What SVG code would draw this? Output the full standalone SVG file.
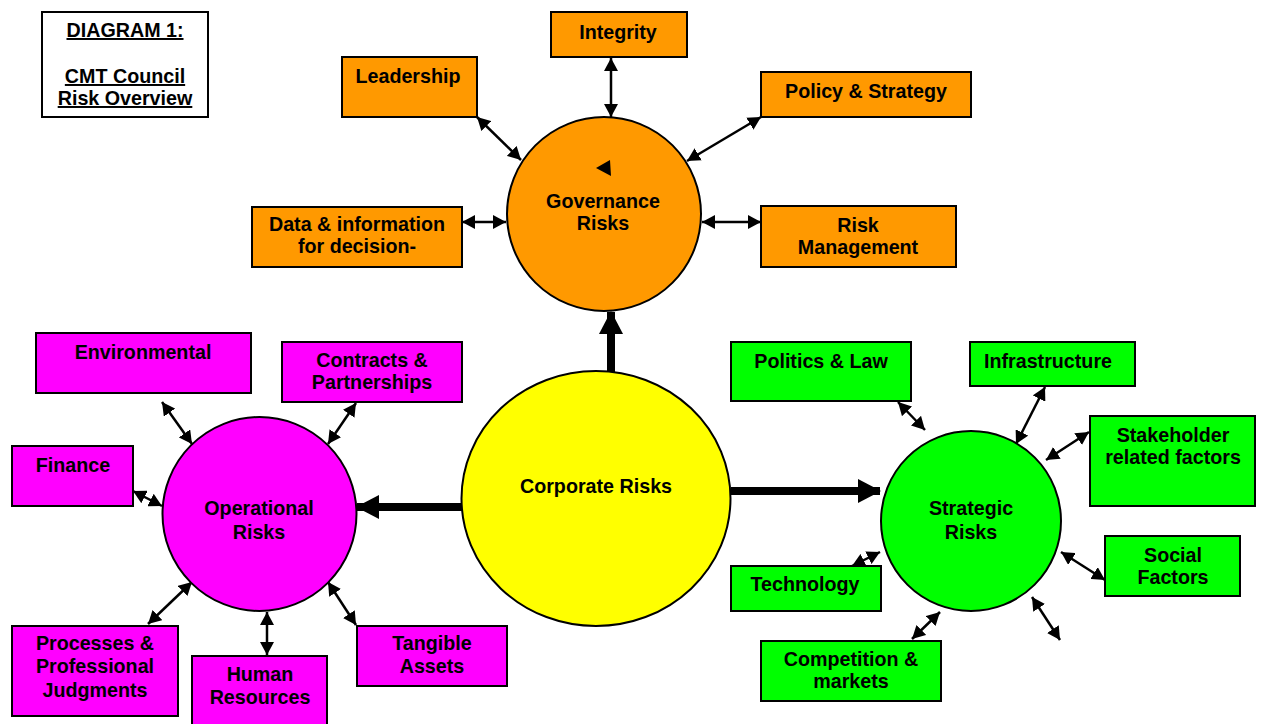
<svg xmlns="http://www.w3.org/2000/svg" width="1262" height="724" viewBox="0 0 1262 724">
<style>
text{font-family:"Liberation Sans",Arial,sans-serif;font-weight:bold;font-size:19.7px;fill:#000;text-anchor:middle}
.box{stroke:#000;stroke-width:2}
.or{fill:#FF9900}.mg{fill:#FF00FF}.gr{fill:#00FF00}.ye{fill:#FFFF00}
.c{stroke:#000;stroke-width:2.5;fill:none;marker-start:url(#h);marker-end:url(#h)}
.thick{stroke:#000;stroke-width:8;fill:none;marker-end:url(#H)}
</style>
<defs>
<marker id="h" viewBox="0 0 13 14" refX="13" refY="7" markerWidth="13" markerHeight="14" markerUnits="userSpaceOnUse" orient="auto-start-reverse"><path d="M0,0 L13,7 L0,14 z" fill="#000"/></marker>
<marker id="H" viewBox="0 0 23 24" refX="22" refY="12" markerWidth="23" markerHeight="24" markerUnits="userSpaceOnUse" orient="auto"><path d="M0,0 L23,12 L0,24 z" fill="#000"/></marker>
</defs>
<rect width="1262" height="724" fill="#fff"/>

<g id="title">
<rect x="42" y="12" width="166" height="105" fill="#fff" class="box"/>
<text x="125" y="37" text-decoration="underline">DIAGRAM 1:</text>
<text x="125" y="83" text-decoration="underline">CMT Council</text>
<text x="125" y="105" text-decoration="underline">Risk Overview</text>
</g>

<g id="connectors">
<line class="thick" x1="611" y1="372" x2="611" y2="312"/>
<line class="thick" x1="731" y1="491" x2="880" y2="491"/>
<line class="thick" x1="462" y1="507" x2="357" y2="507"/>
<line class="c" x1="477" y1="117" x2="521" y2="160"/>
<line class="c" x1="611" y1="58" x2="611" y2="117"/>
<line class="c" x1="761" y1="117" x2="687" y2="161"/>
<line class="c" x1="462" y1="222" x2="506" y2="222"/>
<line class="c" x1="702" y1="222" x2="761" y2="222"/>
<line class="c" x1="162" y1="402" x2="192" y2="444"/>
<line class="c" x1="356" y1="403" x2="328" y2="444"/>
<line class="c" x1="133" y1="491" x2="162" y2="506"/>
<line class="c" x1="148" y1="624" x2="192" y2="582"/>
<line class="c" x1="267" y1="612" x2="267" y2="655"/>
<line class="c" x1="328" y1="582" x2="356" y2="625"/>
<line class="c" x1="898" y1="402" x2="925" y2="430"/>
<line class="c" x1="1045" y1="387" x2="1016" y2="444"/>
<line class="c" x1="1089" y1="432" x2="1046" y2="460"/>
<line class="c" x1="1061" y1="552" x2="1105" y2="580"/>
<line class="c" x1="852" y1="566" x2="880" y2="552"/>
<line class="c" x1="912" y1="639" x2="940" y2="612"/>
<line class="c" x1="1032" y1="597" x2="1060" y2="640"/>
</g>

<g id="governance">
<circle cx="604" cy="214" r="97" class="box or"/>
<polygon points="596,168 610,160 611,176" fill="#000"/>
<text x="603" y="208">Governance</text>
<text x="603" y="230">Risks</text>
</g>
<g id="corporate">
<ellipse cx="596" cy="498.5" rx="134.5" ry="127.5" class="box ye"/>
<text x="596" y="493">Corporate Risks</text>
</g>
<g id="operational">
<circle cx="259.5" cy="514" r="97" class="box mg"/>
<text x="259" y="515">Operational</text>
<text x="259" y="539">Risks</text>
</g>
<g id="strategic">
<circle cx="971" cy="521" r="90" class="box gr"/>
<text x="971" y="515">Strategic</text>
<text x="971" y="539">Risks</text>
</g>

<g id="leadership"><rect x="342" y="57" width="135" height="60" class="box or"/><text x="408" y="83">Leadership</text></g>
<g id="integrity"><rect x="551" y="12" width="136" height="45" class="box or"/><text x="618" y="39">Integrity</text></g>
<g id="policy"><rect x="761" y="72" width="210" height="45" class="box or"/><text x="866" y="98">Policy &amp; Strategy</text></g>
<g id="data"><rect x="252" y="207" width="210" height="60" class="box or"/><text x="357" y="231">Data &amp; information</text><text x="357" y="253">for decision-</text></g>
<g id="riskmgmt"><rect x="761" y="206" width="195" height="61" class="box or"/><text x="858" y="232">Risk</text><text x="858" y="254">Management</text></g>

<g id="environmental"><rect x="36" y="333" width="215" height="60" class="box mg"/><text x="143" y="359">Environmental</text></g>
<g id="contracts"><rect x="282" y="342" width="180" height="60" class="box mg"/><text x="372" y="367">Contracts &amp;</text><text x="372" y="389">Partnerships</text></g>
<g id="finance"><rect x="12" y="446" width="121" height="60" class="box mg"/><text x="73" y="472">Finance</text></g>
<g id="processes"><rect x="12" y="626" width="166" height="90" class="box mg"/><text x="95" y="650">Processes &amp;</text><text x="95" y="673">Professional</text><text x="95" y="697">Judgments</text></g>
<g id="human"><rect x="192" y="656" width="135" height="72" class="box mg"/><text x="260" y="681">Human</text><text x="260" y="704">Resources</text></g>
<g id="tangible"><rect x="357" y="626" width="150" height="60" class="box mg"/><text x="432" y="650">Tangible</text><text x="432" y="673">Assets</text></g>

<g id="politics"><rect x="731" y="342" width="180" height="59" class="box gr"/><text x="821" y="368">Politics &amp; Law</text></g>
<g id="infrastructure"><rect x="970" y="342" width="165" height="44" class="box gr"/><text x="1048" y="368">Infrastructure</text></g>
<g id="stakeholder"><rect x="1090" y="416" width="165" height="90" class="box gr"/><text x="1173" y="442">Stakeholder</text><text x="1173" y="464">related factors</text></g>
<g id="social"><rect x="1105" y="536" width="135" height="60" class="box gr"/><text x="1173" y="562">Social</text><text x="1173" y="584">Factors</text></g>
<g id="technology"><rect x="731" y="566" width="150" height="45" class="box gr"/><text x="805" y="591">Technology</text></g>
<g id="competition"><rect x="761" y="641" width="180" height="60" class="box gr"/><text x="851" y="666">Competition &amp;</text><text x="851" y="688">markets</text></g>
</svg>
